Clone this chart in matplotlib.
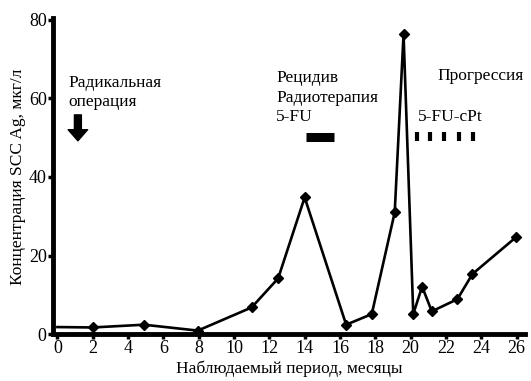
import numpy as np
import matplotlib.pyplot as plt

plt.rcParams['font.family'] = ['Liberation Serif', 'DejaVu Serif']

# SCC Ag level over the follow-up period
months = [0, 2, 4.9, 7.95, 11.0, 12.5, 14.0, 16.35, 17.8, 19.1, 19.6, 20.15, 20.65, 21.2, 22.65, 23.5, 25.95]
scc_ag = [1.8, 1.7, 2.4, 0.9, 6.8, 14.2, 34.8, 2.4, 5.1, 31.0, 76.3, 5.1, 12.1, 5.8, 8.9, 15.3, 24.6]

# treatment markers
rt_course = [14.05, 15.65]          # 5-FU with radiotherapy
cpt_cycles = [20.35, 21.1, 21.9, 22.72, 23.53]  # 5-FU-cPt cycles
therapy_level = 50.3

xticks = list(range(0, 27, 2))
yticks = [0, 20, 40, 60, 80]

fig = plt.figure(figsize=(5.31, 3.81), dpi=100)
ax = fig.add_axes([0.0998, 0.123, 0.888, 0.825])

ax.plot(months, scc_ag, color='black', lw=1.9, marker='D', markersize=5.5,
        markevery=list(range(1, len(months))))

ax.plot(rt_course, [therapy_level] * 2, color='black', lw=6.5, solid_capstyle='butt')
ax.vlines(cpt_cycles, therapy_level - 1.1, therapy_level + 1.1, color='black', lw=3)

ax.annotate('', xy=(1.16, 49.2), xytext=(1.16, 55.8),
            arrowprops=dict(facecolor='black', edgecolor='black', width=5,
                            headwidth=14, headlength=8))

ax.text(0.6, 57.0, 'Радикальная\nоперация', fontsize=12.5, linespacing=1.3,
        va='bottom', ha='left')
ax.text(12.4, 53.2, 'Рецидив\nРадиотерапия\n5-FU', fontsize=12.5, linespacing=1.3,
        va='bottom', ha='left')
ax.text(21.5, 63.7, 'Прогрессия', fontsize=12.5, va='bottom', ha='left')
ax.text(20.4, 53.2, '5-FU-cPt', fontsize=12.5, va='bottom', ha='left')

ax.set_xlim(-0.25, 26.45)
ax.set_ylim(0, 80)
ax.set_xticks(xticks)
ax.set_yticks(yticks)

for side in ['top', 'right']:
    ax.spines[side].set_visible(False)
for side in ['left', 'bottom']:
    ax.spines[side].set_linewidth(3.5)
ax.spines['left'].set_bounds(0, 80.5)

ax.tick_params(axis='both', direction='out', length=3.5, width=2.5,
               labelsize=13, pad=1)

ax.set_xlabel('Наблюдаемый период, месяцы', fontsize=12.5, labelpad=2)
ax.set_ylabel('Концентрация SCC Ag, мкг/л', fontsize=12.5, labelpad=2)

fig.savefig('out.png', dpi=100)
